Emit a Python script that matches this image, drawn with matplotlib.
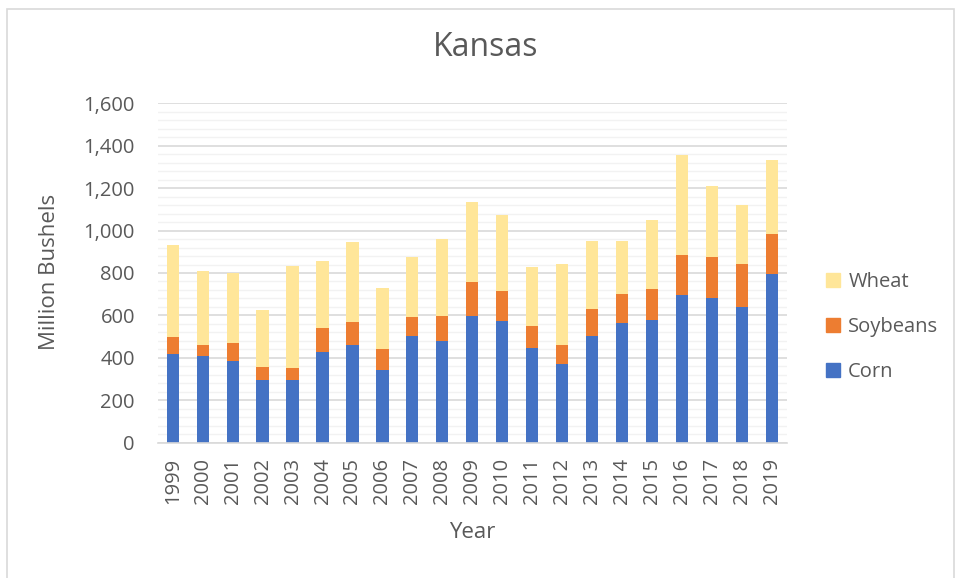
import matplotlib
matplotlib.use("Agg")
import matplotlib.pyplot as plt
from matplotlib.patches import Rectangle, Patch
from matplotlib.ticker import MultipleLocator, FuncFormatter
import numpy as np

years = [str(y) for y in range(1999, 2020)]
corn = [418, 410, 383, 297, 297, 429, 462, 343, 505, 481, 596,
        575, 448, 372, 501, 564, 577, 696, 684, 640, 797]
soybeans = [80, 49, 88, 61, 57, 110, 107, 99, 86, 118, 162,
            140, 102, 87, 129, 139, 148, 190, 190, 201, 187]
wheat = [432, 349, 329, 269, 481, 316, 379, 289, 284, 361, 377,
         358, 278, 383, 322, 248, 325, 469, 336, 278, 349]

FONT = "Open Sans"
TXT = "#595959"
plt.rcParams["font.family"] = [FONT, "DejaVu Sans"]

fig = plt.figure(figsize=(9.57, 5.78), dpi=100)
W, H = 957, 578
ax = fig.add_axes([157.8 / W, 1 - 442.7 / H, (786.7 - 157.8) / W, (442.7 - 103.3) / H])

x = np.arange(len(years))
c_corn, c_soy, c_wheat = "#4472C4", "#ED7D31", "#FFE699"
bw = 0.41
ax.bar(x, corn, bw, color=c_corn, zorder=3, label="Corn")
ax.bar(x, soybeans, bw, bottom=corn, color=c_soy, zorder=3, label="Soybeans")
bot2 = [a + b for a, b in zip(corn, soybeans)]
ax.bar(x, wheat, bw, bottom=bot2, color=c_wheat, zorder=3, label="Wheat")

ax.set_xlim(-0.5, len(years) - 0.5)
ax.set_ylim(0, 1600)
ax.yaxis.set_major_locator(MultipleLocator(200))
ax.yaxis.set_minor_locator(MultipleLocator(40))
ax.yaxis.set_major_formatter(FuncFormatter(lambda v, p: f"{int(v):,}"))
ax.grid(axis="y", which="major", color="#D9D9D9", linewidth=1.2, zorder=1)
ax.grid(axis="y", which="minor", color="#F2F2F2", linewidth=1.0, zorder=0)
ax.set_xticks(x)
ax.set_xticklabels(years, rotation=90, fontsize=14.5, color=TXT)
for lab in ax.get_yticklabels():
    lab.set_fontsize(14.5)
    lab.set_color(TXT)
ax.tick_params(axis="both", which="both", length=0)
ax.tick_params(axis="y", pad=16.5)
ax.tick_params(axis="x", pad=11)
for s in ["top", "right", "left"]:
    ax.spines[s].set_visible(False)
ax.spines["bottom"].set_color("#D9D9D9")
ax.spines["bottom"].set_linewidth(1.2)
ax.spines["bottom"].set_zorder(4)

fig.text(486 / W, 1 - 48 / H, "Kansas", ha="center", va="center", fontsize=23, color=TXT)
fig.text(50 / W, 1 - 272 / H, "Million Bushels", ha="center", va="center",
         rotation=90, fontsize=16, color=TXT)
fig.text(472 / W, 1 - 532 / H, "Year", ha="center", va="center", fontsize=16, color=TXT)

handles = [Patch(color=c_wheat), Patch(color=c_soy), Patch(color=c_corn)]
leg = fig.legend(handles, ["Wheat", "Soybeans", "Corn"], loc="center left",
                 bbox_to_anchor=(818 / W, 1 - 327 / H), frameon=False,
                 fontsize=14.5, handlelength=0.7, handleheight=0.7,
                 handletextpad=0.4, labelspacing=1.25, borderaxespad=0)
for t in leg.get_texts():
    t.set_color(TXT)

fig.patches.append(Rectangle((7 / W, -0.01), (954 - 7) / W, 1 - 9 / H + 0.01,
                             transform=fig.transFigure, fill=False,
                             edgecolor="#D9D9D9", linewidth=1.2))

fig.savefig("out.png", dpi=100)
